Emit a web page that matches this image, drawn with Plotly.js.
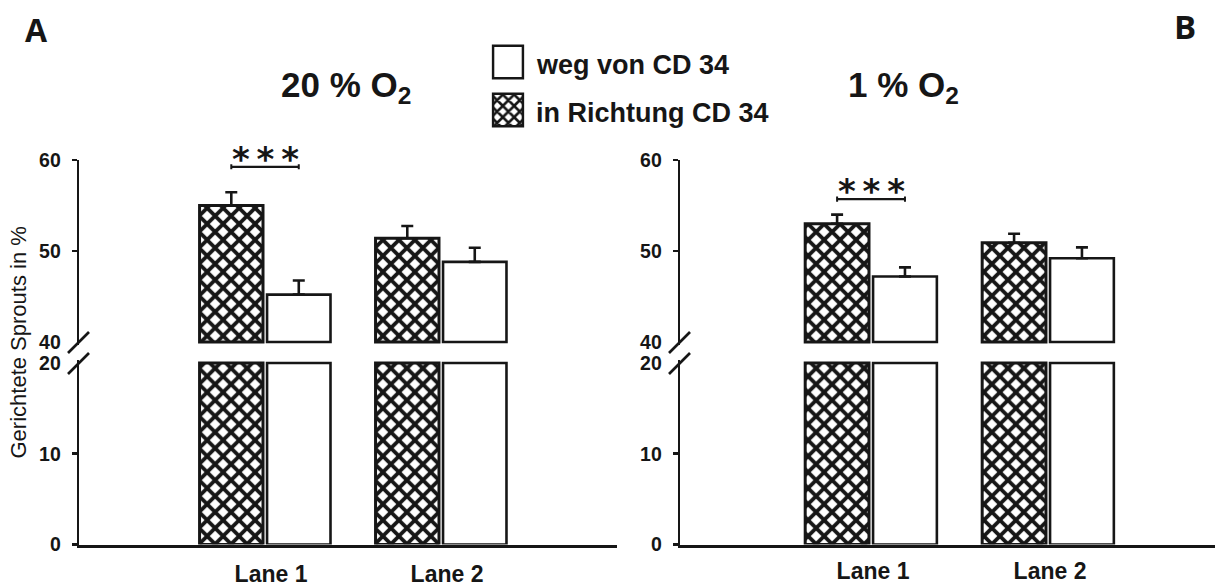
<!DOCTYPE html>
<html><head><meta charset="utf-8">
<script src="https://cdn.plot.ly/plotly-3.0.1.min.js"></script>
<style>html,body{margin:0;padding:0;background:#fff}#chart{width:1215px;height:588px}</style>
</head><body><div id="chart"></div>
<script>
// ---------------- data ----------------
const lanes = ["Lane 1", "Lane 2"];
const nameToward = "in Richtung CD 34";
const nameAway = "weg von CD 34";
const legendLabels = [nameAway, nameToward];
const legendBoxLength = [1, 1];
// Panel A: 20 % O2
const towardA = [55.0, 51.4];
const towardErrA = [1.45, 1.35];
const awayA = [45.2, 48.8];
const awayErrA = [1.55, 1.55];
// Panel B: 1 % O2
const towardB = [53.0, 50.9];
const towardErrB = [1.0, 1.0];
const awayB = [47.2, 49.2];
const awayErrB = [1.0, 1.2];
const panelTitles = ["20 % O<sub>2</sub>", "1 % O<sub>2</sub>"];
const panelLetters = ["A", "B"];
const yTitle = "Gerichtete Sprouts in %";
const lowerTicks = [0, 10, 20];
const upperTicks = [40, 50, 60];
const breakLow = 20;
const breakHigh = 40;
const sigText = "*\u2009*\u2009*";
const sigLevel = [59.25, 55.7];

// ---------------- styling / layout ----------------
const W = 1215, H = 588;
const px = v => v / W;
const py = v => 1 - v / H;
const ink = '#161616';
const FONT = 'Liberation Sans, Arial, sans-serif';
const bargap = 0.233;
const slotOff = (1 - bargap) / 4;

const hatch = {shape: 'x', size: 11.3, solidity: 0.55, fgcolor: ink, bgcolor: '#ffffff', fillmode: 'replace'};
const noHatch = {shape: '', bgcolor: '#ffffff', fgcolor: ink, fillmode: 'replace'};

function errBar(err) {
  return {type: 'data', symmetric: false, array: err, arrayminus: err.map(() => 0),
          color: ink, thickness: 2.6, width: 6};
}

function panelTraces(toward, towardErr, away, awayErr, xa, yLow, yHigh) {
  const out = [];
  const series = [
    {name: nameToward, vals: toward, err: towardErr, pat: hatch, lw: 3},
    {name: nameAway, vals: away, err: awayErr, pat: noHatch, lw: 2.6}
  ];
  series.forEach(s => {
    out.push({type: 'bar', name: s.name, x: lanes, y: s.vals.map(v => Math.min(v, breakLow)),
      xaxis: xa, yaxis: yLow, hoverinfo: 'skip',
      marker: {color: '#ffffff', line: {color: ink, width: s.lw}, pattern: s.pat}});
  });
  series.forEach(s => {
    out.push({type: 'bar', name: s.name, x: lanes, y: s.vals.map(v => v - breakHigh), base: breakHigh,
      xaxis: xa, yaxis: yHigh, hoverinfo: 'skip', error_y: errBar(s.err),
      marker: {color: '#ffffff', line: {color: ink, width: s.lw}, pattern: s.pat}});
  });
  return out;
}

const traces = [
  ...panelTraces(towardA, towardErrA, awayA, awayErrA, 'x', 'y', 'y2'),
  ...panelTraces(towardB, towardErrB, awayB, awayErrB, 'x2', 'y3', 'y4'),
  {type: 'bar', orientation: 'h', x: legendBoxLength, y: legendLabels, width: 0.68,
   xaxis: 'x3', yaxis: 'y5', hoverinfo: 'skip',
   marker: {color: '#ffffff', line: {color: ink, width: 2.6},
            pattern: {shape: ['', 'x'], size: 8, solidity: 0.55, fgcolor: ink, bgcolor: '#ffffff', fillmode: 'replace'}}}
];

const lowDomain = [py(544.5), py(360.3)];
const highDomain = [py(344.7), py(160)];

function yAxis(range, domain, ticks, anchor) {
  return {domain: domain, range: range, anchor: anchor, showgrid: false, zeroline: false,
    showline: true, linecolor: ink, linewidth: 2.6, ticks: '', tickvals: ticks,
    ticktext: ticks.map(String), ticklabelstandoff: 12,
    tickfont: {family: FONT, size: 19.5, weight: 'bold', color: ink},
    minor: {tickvals: ticks.filter(t => t !== breakLow && t !== breakHigh), ticks: 'outside',
            ticklen: 5, tickwidth: 2.6, tickcolor: ink},
    fixedrange: true};
}
function xAxis(domain, range, anchor, standoff, shift) {
  return {domain: domain, range: range, anchor: anchor, type: 'category', showgrid: false,
    zeroline: false, showline: true, linecolor: ink, linewidth: 3, ticks: '',
    ticklabelstandoff: standoff, ticklabelshift: shift,
    tickfont: {family: FONT, size: 23, weight: 'bold', color: ink}, fixedrange: true};
}

const shapes = [];
function slash(xc, yc) {
  shapes.push({type: 'line', xref: 'paper', yref: 'paper', x0: px(xc - 10.5), y0: py(yc + 10.5),
    x1: px(xc + 10.5), y1: py(yc - 10.5), line: {color: ink, width: 2.6}});
}
slash(78.5, 342.5); slash(78.5, 363.5);
slash(679.5, 342.5); slash(679.5, 363.5);

function bracket(xref, yref, level) {
  shapes.push({type: 'line', xref: xref, yref: yref, x0: -slotOff, x1: slotOff, y0: level, y1: level,
    line: {color: ink, width: 2.2}});
  [-slotOff, slotOff].forEach(xx => shapes.push({type: 'line', xref: xref, yref: yref,
    x0: xx, x1: xx, y0: level - 0.28, y1: level + 0.28, line: {color: ink, width: 2}}));
}
bracket('x', 'y2', sigLevel[0]);
bracket('x2', 'y4', sigLevel[1]);

function paperText(text, x, y, font, extra) {
  return Object.assign({text: text, xref: 'paper', yref: 'paper', x: px(x), y: py(y),
    xanchor: 'center', yanchor: 'middle', showarrow: false, font: font}, extra || {});
}
const annotations = [
  paperText(panelLetters[0], 36, 29, {family: 'Open Sans, sans-serif', size: 32, weight: 'bold', color: ink}),
  paperText(panelLetters[1], 1185, 26, {family: 'Open Sans, sans-serif', size: 33, weight: 'bold', color: ink}),
  paperText(panelTitles[0], 346, 87, {family: FONT, size: 35, weight: 'bold', color: ink}),
  paperText(panelTitles[1], 903, 87, {family: FONT, size: 35, weight: 'bold', color: ink}),
  paperText(yTitle, 18, 342.5, {family: FONT, size: 22, color: ink}, {textangle: -90}),
  {text: sigText, xref: 'x', yref: 'y2', x: 0, y: sigLevel[0], xanchor: 'center', yanchor: 'middle', yshift: 8, showarrow: false,
   font: {family: 'DejaVu Sans, sans-serif', size: 34, weight: 'bold', color: ink}},
  {text: sigText, xref: 'x2', yref: 'y4', x: 0, y: sigLevel[1], xanchor: 'center', yanchor: 'middle', yshift: 8, showarrow: false,
   font: {family: 'DejaVu Sans, sans-serif', size: 34, weight: 'bold', color: ink}}
];
legendLabels.forEach(lbl => annotations.push({text: lbl, xref: 'paper', yref: 'y5', x: px(534), y: lbl,
  xanchor: 'left', yanchor: 'middle', yshift: -3, showarrow: false,
  font: {family: FONT, size: 27, weight: 'bold', color: ink}}));

const layout = {
  width: W, height: 588, margin: {l: 0, r: 0, t: 0, b: 0},
  paper_bgcolor: '#ffffff', plot_bgcolor: 'rgba(0,0,0,0)', showlegend: false,
  barmode: 'group', bargap: bargap, bargroupgap: 0.06,
  font: {family: FONT, color: ink},
  xaxis: xAxis([px(79.3), px(617)], [-1.0554, 2.0], 'y', 7, 6),
  yaxis: yAxis([0, 20.3], lowDomain, lowerTicks, 'x'),
  yaxis2: yAxis([39.7, 60], highDomain, upperTicks, 'x'),
  xaxis2: xAxis([px(680.3), 1], [-1.0777, 1.9435], 'y3', 4, 2),
  yaxis3: yAxis([0, 20.3], lowDomain, lowerTicks, 'x2'),
  yaxis4: yAxis([39.7, 60], highDomain, upperTicks, 'x2'),
  xaxis3: {domain: [px(491.5), px(524.5)], range: [-0.05, 1.05], anchor: 'y5', visible: false, fixedrange: true},
  yaxis5: {domain: [py(134), py(38)], range: [1.5, -0.5], type: 'category', anchor: 'x3', visible: false, fixedrange: true},
  shapes: shapes,
  annotations: annotations
};

Plotly.newPlot('chart', traces, layout, {displayModeBar: false, staticPlot: true});
</script>
</body></html>
